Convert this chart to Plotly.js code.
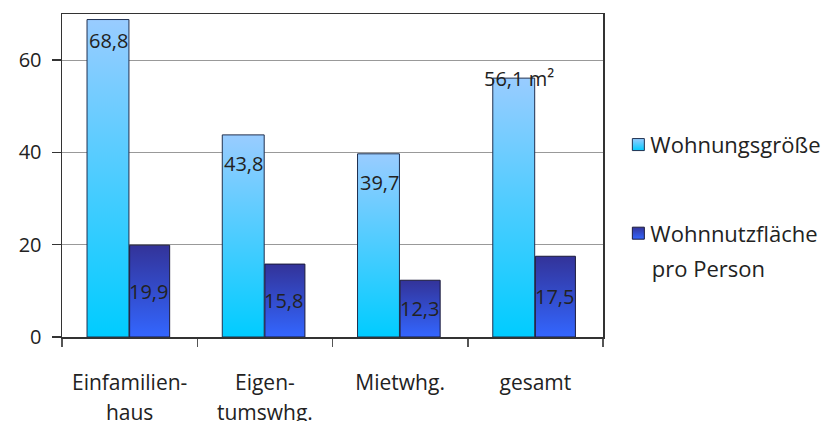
<!DOCTYPE html>
<html>
<head>
<meta charset="utf-8">
<script src="https://cdn.plot.ly/plotly-3.0.1.min.js"></script>
<style>
  html, body { margin: 0; padding: 0; background: #fff; }
  #chart { width: 830px; height: 421px; }
</style>
</head>
<body>
<div id="chart"></div>
<script>
// Wohnfläche nach Wohnform (m²)
const categories = ['Einfamilien-<br>haus', 'Eigen-<br>tumswhg.', 'Mietwhg.', 'gesamt'];
const wohnungsgroesse = [68.8, 43.8, 39.7, 56.1];
const wohnnutzflaeche = [19.9, 15.8, 12.3, 17.5];
const seriesNames = ['Wohnungsgröße', 'Wohnnutzfläche'];
const yTicks = [0, 20, 40, 60];

// label placement (pixel offsets) for the light bars
const lightLabelShiftY = [-21, -29, -29, 0];
const lightLabelShiftX = [-21, -21, -21, -16];

const FONT = 'Open Sans, Noto Sans, sans-serif';
const TXT = '#222222';

function fmt(v) { return v.toFixed(1).replace('.', ','); }

const traces = [
  {
    type: 'bar', name: seriesNames[0], x: categories, y: wohnungsgroesse,
    offset: -0.315, width: 0.31,
    marker: { color: '#66ccff', line: { color: '#1f2f4f', width: 1 } },
    legendgroup: 'a', hoverinfo: 'none'
  },
  {
    type: 'bar', name: seriesNames[1], x: categories, y: wohnnutzflaeche,
    offset: 0.0, width: 0.296,
    marker: { color: '#3355cc', line: { color: '#1a1a3a', width: 1 } },
    legendgroup: 'b', hoverinfo: 'none'
  }
];

const annotations = [];
categories.forEach((c, i) => {
  const lastLabel = i === categories.length - 1;
  annotations.push({
    x: c, y: wohnungsgroesse[i], xref: 'x', yref: 'y',
    text: fmt(wohnungsgroesse[i]) + (lastLabel ? ' m²' : ''),
    showarrow: false, xanchor: 'center', yanchor: 'middle',
    xshift: lightLabelShiftX[i], yshift: lightLabelShiftY[i],
    font: { family: FONT, size: 20, color: TXT }
  });
  annotations.push({
    x: c, y: wohnnutzflaeche[i] / 2, xref: 'x', yref: 'y',
    text: fmt(wohnnutzflaeche[i]),
    showarrow: false, xanchor: 'center', yanchor: 'middle',
    xshift: 19, font: { family: FONT, size: 20, color: TXT }
  });
});
// second line of the legend entry
annotations.push({
  xref: 'paper', yref: 'paper', x: 0, y: 0, text: 'pro Person',
  showarrow: false, xanchor: 'left', yanchor: 'middle',
  font: { family: FONT, size: 22, color: TXT }
});

const layout = {
  width: 830, height: 421,
  margin: { l: 62, r: 227, t: 14, b: 84 },
  paper_bgcolor: '#ffffff', plot_bgcolor: '#ffffff',
  font: { family: FONT, size: 20, color: TXT },
  showlegend: true,
  barmode: 'group',
  xaxis: {
    type: 'category', showline: true, linecolor: '#333333', linewidth: 1.5,
    mirror: true, ticks: 'outside', tickson: 'boundaries', ticklen: 8,
    tickcolor: '#555555', tickwidth: 1.5, showgrid: false,
    ticklabelstandoff: 26,
    tickfont: { family: FONT, size: 21, color: TXT }, fixedrange: true
  },
  yaxis: {
    range: [0, 70], tickvals: yTicks, ticktext: yTicks.map(String),
    showline: true, linecolor: '#333333', linewidth: 1.5, mirror: true,
    ticks: 'outside', ticklen: 9, tickcolor: '#333333', tickwidth: 1.5,
    showgrid: true, gridcolor: '#999999', gridwidth: 1, zeroline: false,
    ticklabelstandoff: 6,
    tickfont: { family: FONT, size: 20, color: TXT }, fixedrange: true
  },
  legend: {
    xref: 'container', yref: 'container', x: 0.745, y: 0.706,
    xanchor: 'left', yanchor: 'top', traceorder: 'grouped',
    tracegroupgap: 57, valign: 'top',
    font: { family: FONT, size: 22, color: TXT }, bgcolor: 'rgba(0,0,0,0)'
  },
  annotations: annotations
};

const gradients = {
  gLight: ['#99ccff', '#00ccff'],
  gDark: ['#333399', '#3366ff']
};

function applyGradients(gd) {
  const svg = gd.querySelector('.main-svg');
  if (!svg) return;
  let defs = svg.querySelector('defs');
  if (!defs) { defs = document.createElementNS('http://www.w3.org/2000/svg', 'defs'); svg.insertBefore(defs, svg.firstChild); }
  Object.keys(gradients).forEach(id => {
    if (svg.querySelector('#' + id)) return;
    const lg = document.createElementNS('http://www.w3.org/2000/svg', 'linearGradient');
    lg.setAttribute('id', id);
    lg.setAttribute('x1', '0'); lg.setAttribute('y1', '0');
    lg.setAttribute('x2', '0'); lg.setAttribute('y2', '1');
    gradients[id].forEach((col, k) => {
      const s = document.createElementNS('http://www.w3.org/2000/svg', 'stop');
      s.setAttribute('offset', k === 0 ? '0' : '1');
      s.setAttribute('stop-color', col);
      lg.appendChild(s);
    });
    defs.appendChild(lg);
  });
  const ids = ['gLight', 'gDark'];
  gd.querySelectorAll('.barlayer .trace.bars').forEach((tr, k) => {
    tr.querySelectorAll('.point path').forEach(p => { p.style.fill = 'url(#' + ids[k] + ')'; });
  });
  gd.querySelectorAll('.legend .traces').forEach((tr, k) => {
    tr.querySelectorAll('.legendpoints path').forEach(p => { p.style.fill = 'url(#' + ids[k] + ')'; });
  });
  // category labels: wider spacing between the two lines
  gd.querySelectorAll('.xtick text').forEach(t => {
    const lines = t.querySelectorAll('tspan.line');
    lines.forEach((ln, k) => { if (k > 0) ln.setAttribute('dy', '1.45em'); });
  });
  // legend text a little closer to its swatch
  gd.querySelectorAll('.legend .traces .legendtext').forEach(t => {
    const x = parseFloat(t.getAttribute('x')) - 8;
    t.setAttribute('x', x);
    t.querySelectorAll('tspan.line').forEach(ln => ln.setAttribute('x', x));
  });
  // place the legend's second line under the second entry's text
  const legendTexts = gd.querySelectorAll('.legend .traces .legendtext');
  const ann = gd.querySelectorAll('.annotation');
  if (legendTexts.length > 1 && ann.length) {
    const r = legendTexts[1].getBoundingClientRect();
    const last = ann[ann.length - 1];
    const ar = last.getBoundingClientRect();
    const dx = r.left - ar.left;
    const dy = (r.top + 34) - ar.top;
    const cur = last.getAttribute('transform') || '';
    last.setAttribute('transform', cur + ' translate(' + dx + ',' + dy + ')');
  }
}

const gd = document.getElementById('chart');
Plotly.newPlot(gd, traces, layout, { staticPlot: true, displayModeBar: false }).then(() => applyGradients(gd));
</script>
</body>
</html>
